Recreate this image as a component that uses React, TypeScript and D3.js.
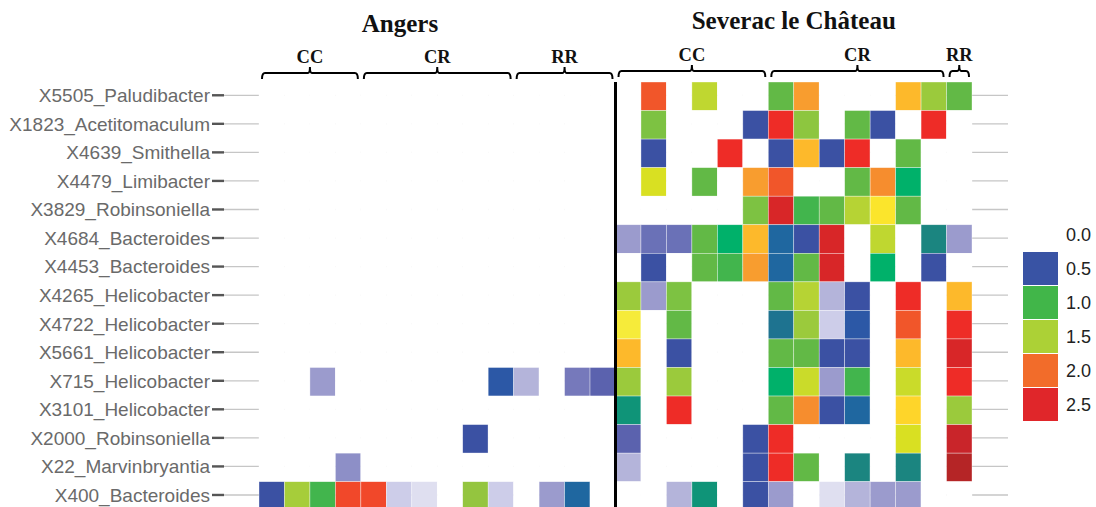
import React from 'react';
import * as d3 from 'd3';

// taxa, top to bottom
const taxa = [
  'X5505_Paludibacter', 'X1823_Acetitomaculum', 'X4639_Smithella', 'X4479_Limibacter',
  'X3829_Robinsoniella', 'X4684_Bacteroides', 'X4453_Bacteroides', 'X4265_Helicobacter',
  'X4722_Helicobacter', 'X5661_Helicobacter', 'X715_Helicobacter', 'X3101_Helicobacter',
  'X2000_Robinsoniella', 'X22_Marvinbryantia', 'X400_Bacteroides',
];

const sites = ['Angers', 'Severac le Château'];
const treatments = ['CC', 'CR', 'RR'];
const angersCounts = [4, 6, 4];
const severacCounts = [6, 7, 1];

// colour codes, "." = empty (0)
const angersCells = [
  '. . . . . . . . . . . . . .',
  '. . . . . . . . . . . . . .',
  '. . . . . . . . . . . . . .',
  '. . . . . . . . . . . . . .',
  '. . . . . . . . . . . . . .',
  '. . . . . . . . . . . . . .',
  '. . . . . . . . . . . . . .',
  '. . . . . . . . . . . . . .',
  '. . . . . . . . . . . . . .',
  '. . . . . . . . . . . . . .',
  '. . L . . . . . . B2 LL . S3 S2',
  '. . . . . . . . . . . . . .',
  '. . . . . . . . B . . . . .',
  '. . . L2 . . . . . . . . . .',
  'B LM2 G2 OR2 OR2 PL VP . LM3 PL . L SB .',
];

const severacCells = [
  '. OR . YG . . G O . . . GD LM G',
  '. GL . . . B R LG . G B . R .',
  '. B . . R . B GD B R . G . .',
  '. Y . G . O OR . . G O2 E . .',
  '. . . . . GL DR G2 G YG3 YY G . .',
  'L S S G E GD SB B DR . YG . T L',
  '. B . G G2 O SB G DR . E . B .',
  'LM L GL . . . G YG3 LL B . R . GD',
  'YY2 . G . . . TB LM PL B2 . OR . R',
  'GD . B . . . G G B B . GD . DR',
  'LM . LM . . . E YG2 L G2 . YG2 . R',
  'T2 . R . . . G O2 B SB . YL . LM',
  'S2 . . . . B R . . . . Y . DR2',
  'LL . . . . B R G . T . T . DR3',
  '. . LL T2 . B L . VP LL L L . .',
];

const codes = ['.', 'B', 'B2', 'SB', 'TB', 'S', 'S2', 'S3', 'L', 'L2', 'LL', 'PL', 'VP',
  'G', 'G2', 'GL', 'LG', 'LM', 'LM2', 'LM3', 'YG', 'YG2', 'YG3', 'Y', 'YY', 'YY2', 'YL', 'GD',
  'O', 'O2', 'OR', 'OR2', 'R', 'DR', 'DR2', 'DR3', 'E', 'T', 'T2'];
const codeColors = ['#ffffff', '#3b51a3', '#2c58a6', '#1f67a0', '#1e7390', '#6a71b7', '#5b62ae',
  '#7679bb', '#9b9bcd', '#8d8fc7', '#b4b4da', '#cdcde9', '#dfdff0',
  '#62b946', '#42b54d', '#7dc242', '#8dc63f', '#9bca3c', '#a6cd3a', '#94c53f', '#bfd730',
  '#cadb2a', '#b6d334', '#d9e022', '#fbe52c', '#f6eb3a', '#fed52a', '#fdb92b',
  '#f89d2f', '#f68d2e', '#f1562a', '#f1482a', '#ee2c27', '#d82628', '#c9252a', '#b52526',
  '#00b16a', '#1b8580', '#0f9478'];

const legendLabels = ['0.0', '0.5', '1.0', '1.5', '2.0', '2.5'];
const legendColors = [null, '#3953a4', '#41b649', '#acd136', '#f26c2a', '#e0262a'];

const W = 1096;
const H = 507;
const serif = '"Liberation Serif", "Times New Roman", serif';
const sans = '"Liberation Sans", Arial, sans-serif';

export default function App() {
  const nA = d3.sum(angersCounts);
  const nS = d3.sum(severacCounts);
  const x = d3.scaleBand<number>().domain(d3.range(nA + nS)).range([259, 972]);
  const y = d3.scaleBand<number>().domain(d3.range(taxa.length)).range([82, 82 + 28.55 * taxa.length]);
  const color = d3.scaleOrdinal<string, string>().domain(codes).range(codeColors);

  const cells: { r: number; c: number; code: string }[] = [];
  taxa.forEach((_, r) => {
    const row = angersCells[r].trim().split(/\s+/).concat(severacCells[r].trim().split(/\s+/));
    row.forEach((code, c) => cells.push({ r, c, code }));
  });

  // bracket groups
  const brackets: { label: string; x0: number; x1: number; site: number }[] = [];
  [angersCounts, severacCounts].forEach((counts, s) => {
    let start = s === 0 ? 0 : nA;
    counts.forEach((n, i) => {
      brackets.push({ label: treatments[i], x0: x(start)!, x1: x(start + n - 1)! + x.bandwidth(), site: s });
      start += n;
    });
  });
  const bracketY = [73, 71];
  const titleX = [400, (x(nA)! + x(nA + nS - 1)! + x.bandwidth()) / 2];
  const titleY = [32, 29];

  const bracePath = (x0: number, x1: number, yy: number) => {
    const a = x0 + 3, b = x1 - 3, c = (x0 + x1) / 2;
    return `M${a},${yy + 6} Q${a},${yy} ${a + 3},${yy} L${c - 2},${yy} Q${c},${yy} ${c},${yy - 6} ` +
      `Q${c},${yy} ${c + 2},${yy} L${b - 3},${yy} Q${b},${yy} ${b},${yy + 6}`;
  };

  const legendY = d3.scaleLinear().domain([0, 1]).range([218, 252]);
  const sepX = x(nA)!;

  return (
    <div style={{ position: 'absolute', left: 0, top: 0 }}>
      <svg width={W} height={H} style={{ display: 'block', background: '#fff' }}>
        {/* grid lines */}
        <g>
          {taxa.map((t, i) => (
            <line key={t} x1={223} x2={1008} y1={y(i)! + y.bandwidth() / 2 - 1} y2={y(i)! + y.bandwidth() / 2 - 1}
              stroke="#c6c6c6" strokeWidth={1.3} />
          ))}
        </g>
        {/* cells */}
        <g>
          {cells.map(d => (
            <rect key={`${d.r}-${d.c}`} x={x(d.c)} y={y(d.r)} width={x.bandwidth()} height={y.bandwidth()}
              fill={color(d.code)} stroke="#ffffff" strokeWidth={0.6} strokeOpacity={0.6} />
          ))}
        </g>
        {/* row labels and ticks */}
        <g>
          {taxa.map((t, i) => {
            const cy = y(i)! + y.bandwidth() / 2 - 1;
            return (
              <g key={t}>
                <line x1={212} x2={224} y1={cy} y2={cy} stroke="#555" strokeWidth={2.4} />
                <text x={210} y={cy} dy="0.36em" textAnchor="end" fontFamily={sans} fontSize={19} fill="#6a6a6a">{t}</text>
              </g>
            );
          })}
        </g>
        {/* separator */}
        <line x1={sepX} x2={sepX} y1={82} y2={H} stroke="#000" strokeWidth={3} />
        {/* titles */}
        {sites.map((s, i) => (
          <text key={s} x={titleX[i]} y={titleY[i]} textAnchor="middle" fontFamily={serif} fontWeight="bold"
            fontSize={25} fill="#111">{s}</text>
        ))}
        {/* brackets */}
        {brackets.map((b, i) => (
          <g key={i}>
            <path d={bracePath(b.x0, b.x1, bracketY[b.site])} fill="none" stroke="#000" strokeWidth={2} />
            <text x={(b.x0 + b.x1) / 2} y={bracketY[b.site] - 10} textAnchor="middle" fontFamily={serif}
              fontWeight="bold" fontSize={18.5} fill="#111">{b.label}</text>
          </g>
        ))}
        {/* legend */}
        <g>
          {legendLabels.map((l, i) => (
            <g key={l}>
              {legendColors[i] && (
                <rect x={1023} y={legendY(i)} width={35} height={33} fill={legendColors[i]!} />
              )}
              <text x={1066} y={legendY(i) + 16.5} dy="0.36em" fontFamily={sans} fontSize={18} fill="#222">{l}</text>
            </g>
          ))}
        </g>
      </svg>
    </div>
  );
}
